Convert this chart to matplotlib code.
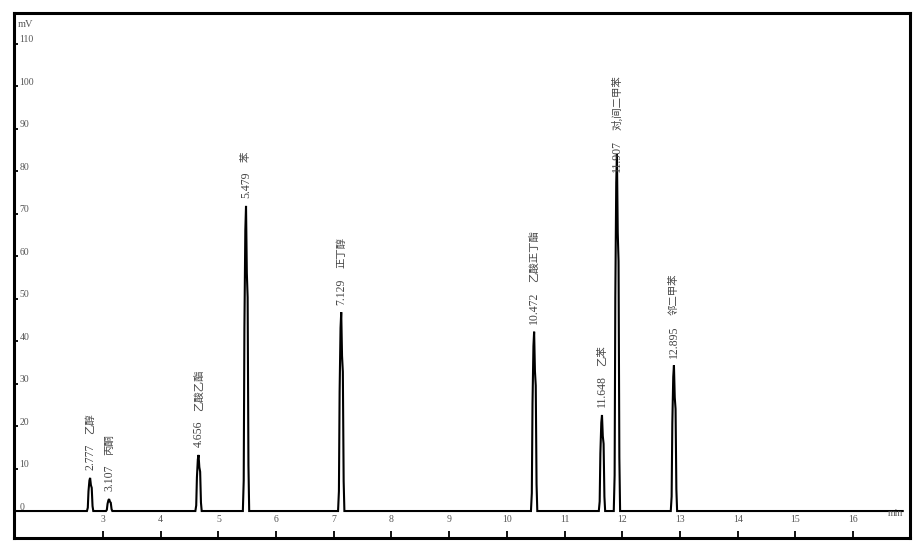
import matplotlib

matplotlib.use("Agg")
import matplotlib.pyplot as plt
import numpy as np

plt.rcParams["font.family"] = ["Liberation Serif", "Noto Sans CJK SC", "DejaVu Sans"]

# retention time (min), apex height (mV), compound
PEAK_TIMES = [2.777, 3.107, 4.656, 5.479, 7.129, 10.472, 11.648, 11.907, 12.895]
PEAK_HEIGHTS = [7.8, 2.8, 13.2, 71.8, 46.8, 42.2, 22.6, 84.0, 34.3]
PEAK_NAMES = ["乙醇", "丙酮", "乙酸乙酯", "苯", "正丁醇", "乙酸正丁酯", "乙苯", "对,间二甲苯", "邻二甲苯"]

# peak outline: offset from apex (min) and fraction of apex height
PROFILE_DT = [-0.055, -0.04, -0.028, -0.012, 0.0, 0.014, 0.028, 0.042, 0.055]
PROFILE_FRAC = [0.0, 0.1, 0.6, 0.92, 1.0, 0.78, 0.7, 0.15, 0.0]

RUN_START, RUN_END = 1.46, 16.86
X_TICKS = list(range(3, 17))
Y_TICKS = list(range(0, 111, 10))


def build_trace():
    ts, vs = [RUN_START], [0.0]
    for t0, h in zip(PEAK_TIMES, PEAK_HEIGHTS):
        for dt, f in zip(PROFILE_DT, PROFILE_FRAC):
            ts.append(t0 + dt)
            vs.append(h * f)
    ts.append(RUN_END)
    vs.append(0.0)
    return np.array(ts), np.array(vs)


def main():
    fig = plt.figure(figsize=(9.19, 5.54), dpi=100)
    ax = fig.add_axes([14 / 919, 16 / 554, 896 / 919, 525 / 554])
    ax.set_xlim(1.458, 16.986)
    ax.set_ylim(-6.35, 117.2)

    ts, vs = build_trace()
    ax.plot(ts, vs, color="black", linewidth=1.5, solid_joinstyle="miter")

    tallest = max(PEAK_HEIGHTS)
    for t0, h, name in zip(PEAK_TIMES, PEAK_HEIGHTS, PEAK_NAMES):
        # the integrator pushed the label of the main peak down over its apex
        dy = -13 if h == tallest else 5.5
        num = ax.annotate(f"{t0:.3f}", xy=(t0, h), xytext=(0, dy), textcoords="offset points",
                          rotation=90, ha="center", va="bottom", fontsize=8.5, color="#444444",
                          family="Liberation Serif")
        ax.annotate(name, xy=(0.5, 1.0), xycoords=num, xytext=(0, 7), textcoords="offset points",
                    rotation=90, ha="center", va="bottom", fontsize=7.5, color="#444444",
                    family=["Noto Sans CJK SC", "DejaVu Sans"])

    for s in ax.spines.values():
        s.set_linewidth(2.2)

    ax.set_xticks(X_TICKS)
    ax.set_yticks(Y_TICKS)
    ax.set_xticklabels([])
    ax.set_yticklabels([])
    ax.tick_params(axis="x", direction="in", length=5, width=1.3, color="black")
    ax.tick_params(axis="y", direction="in", length=3, width=1.3, color="black")

    xt = ax.get_xaxis_transform()
    for x in X_TICKS:
        ax.text(x, 0.036, str(x), transform=xt, ha="center", va="center", fontsize=7, color="#555555")
    ax.text(0.992, 0.046, "min", transform=ax.transAxes, ha="right", va="center", fontsize=7, color="#555555")

    yt = ax.get_yaxis_transform()
    for y in Y_TICKS:
        ax.text(0.006, y + 0.9, str(y), transform=yt, ha="left", va="center", fontsize=7, color="#555555")
    ax.text(0.004, 0.979, "mV", transform=ax.transAxes, ha="left", va="center", fontsize=7.5, color="#555555")

    fig.savefig("out.png", dpi=100)


if __name__ == "__main__":
    main()
